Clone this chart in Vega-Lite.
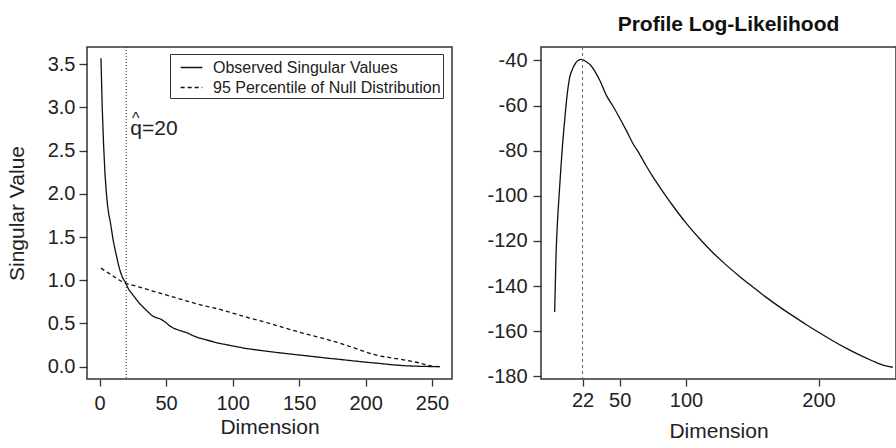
{
  "$schema": "https://vega.github.io/schema/vega-lite/v6.json",
  "background": "white",
  "padding": {"left": 5, "top": 12, "right": 0, "bottom": 0},
  "bounds": "flush",
  "spacing": 89,
  "config": {
    "font": "Liberation Sans",
    "view": {"stroke": "#333", "strokeWidth": 1.5},
    "axis": {
      "grid": false,
      "domain": false,
      "tickColor": "#333",
      "tickWidth": 1.3,
      "labelFontSize": 20,
      "labelColor": "#222",
      "labelFont": "Liberation Sans",
      "titleFontSize": 21,
      "titleFontWeight": "normal",
      "titleColor": "#222",
      "titleFont": "Liberation Sans"
    }
  },
  "datasets": {
    "sv": [
      {"dim": 1, "value": 3.57, "series": "Observed Singular Values"},
      {"dim": 2, "value": 2.98, "series": "Observed Singular Values"},
      {"dim": 3, "value": 2.56, "series": "Observed Singular Values"},
      {"dim": 4, "value": 2.24, "series": "Observed Singular Values"},
      {"dim": 5, "value": 2.02, "series": "Observed Singular Values"},
      {"dim": 6, "value": 1.86, "series": "Observed Singular Values"},
      {"dim": 7, "value": 1.75, "series": "Observed Singular Values"},
      {"dim": 8, "value": 1.68, "series": "Observed Singular Values"},
      {"dim": 9, "value": 1.58, "series": "Observed Singular Values"},
      {"dim": 10, "value": 1.48, "series": "Observed Singular Values"},
      {"dim": 11, "value": 1.40, "series": "Observed Singular Values"},
      {"dim": 12, "value": 1.33, "series": "Observed Singular Values"},
      {"dim": 13, "value": 1.26, "series": "Observed Singular Values"},
      {"dim": 14, "value": 1.19, "series": "Observed Singular Values"},
      {"dim": 15, "value": 1.13, "series": "Observed Singular Values"},
      {"dim": 16, "value": 1.08, "series": "Observed Singular Values"},
      {"dim": 17, "value": 1.04, "series": "Observed Singular Values"},
      {"dim": 18, "value": 1.01, "series": "Observed Singular Values"},
      {"dim": 19, "value": 0.985, "series": "Observed Singular Values"},
      {"dim": 20, "value": 0.955, "series": "Observed Singular Values"},
      {"dim": 21, "value": 0.92, "series": "Observed Singular Values"},
      {"dim": 22, "value": 0.89, "series": "Observed Singular Values"},
      {"dim": 23, "value": 0.87, "series": "Observed Singular Values"},
      {"dim": 24, "value": 0.85, "series": "Observed Singular Values"},
      {"dim": 26, "value": 0.81, "series": "Observed Singular Values"},
      {"dim": 28, "value": 0.77, "series": "Observed Singular Values"},
      {"dim": 30, "value": 0.73, "series": "Observed Singular Values"},
      {"dim": 32, "value": 0.70, "series": "Observed Singular Values"},
      {"dim": 34, "value": 0.67, "series": "Observed Singular Values"},
      {"dim": 36, "value": 0.64, "series": "Observed Singular Values"},
      {"dim": 38, "value": 0.61, "series": "Observed Singular Values"},
      {"dim": 40, "value": 0.585, "series": "Observed Singular Values"},
      {"dim": 42, "value": 0.57, "series": "Observed Singular Values"},
      {"dim": 44, "value": 0.56, "series": "Observed Singular Values"},
      {"dim": 46, "value": 0.55, "series": "Observed Singular Values"},
      {"dim": 48, "value": 0.53, "series": "Observed Singular Values"},
      {"dim": 50, "value": 0.51, "series": "Observed Singular Values"},
      {"dim": 52, "value": 0.48, "series": "Observed Singular Values"},
      {"dim": 55, "value": 0.45, "series": "Observed Singular Values"},
      {"dim": 58, "value": 0.43, "series": "Observed Singular Values"},
      {"dim": 62, "value": 0.41, "series": "Observed Singular Values"},
      {"dim": 66, "value": 0.39, "series": "Observed Singular Values"},
      {"dim": 70, "value": 0.36, "series": "Observed Singular Values"},
      {"dim": 75, "value": 0.33, "series": "Observed Singular Values"},
      {"dim": 80, "value": 0.31, "series": "Observed Singular Values"},
      {"dim": 85, "value": 0.29, "series": "Observed Singular Values"},
      {"dim": 90, "value": 0.27, "series": "Observed Singular Values"},
      {"dim": 95, "value": 0.255, "series": "Observed Singular Values"},
      {"dim": 100, "value": 0.24, "series": "Observed Singular Values"},
      {"dim": 110, "value": 0.21, "series": "Observed Singular Values"},
      {"dim": 120, "value": 0.19, "series": "Observed Singular Values"},
      {"dim": 130, "value": 0.17, "series": "Observed Singular Values"},
      {"dim": 140, "value": 0.152, "series": "Observed Singular Values"},
      {"dim": 150, "value": 0.135, "series": "Observed Singular Values"},
      {"dim": 160, "value": 0.118, "series": "Observed Singular Values"},
      {"dim": 170, "value": 0.10, "series": "Observed Singular Values"},
      {"dim": 180, "value": 0.085, "series": "Observed Singular Values"},
      {"dim": 190, "value": 0.068, "series": "Observed Singular Values"},
      {"dim": 200, "value": 0.052, "series": "Observed Singular Values"},
      {"dim": 210, "value": 0.038, "series": "Observed Singular Values"},
      {"dim": 220, "value": 0.022, "series": "Observed Singular Values"},
      {"dim": 230, "value": 0.01, "series": "Observed Singular Values"},
      {"dim": 240, "value": 0.004, "series": "Observed Singular Values"},
      {"dim": 250, "value": 0.001, "series": "Observed Singular Values"},
      {"dim": 256, "value": 0.0, "series": "Observed Singular Values"},
      {"dim": 1, "value": 1.14, "series": "95 Percentile of Null Distribution"},
      {"dim": 5, "value": 1.10, "series": "95 Percentile of Null Distribution"},
      {"dim": 10, "value": 1.05, "series": "95 Percentile of Null Distribution"},
      {"dim": 15, "value": 1.0, "series": "95 Percentile of Null Distribution"},
      {"dim": 20, "value": 0.963, "series": "95 Percentile of Null Distribution"},
      {"dim": 30, "value": 0.92, "series": "95 Percentile of Null Distribution"},
      {"dim": 40, "value": 0.875, "series": "95 Percentile of Null Distribution"},
      {"dim": 50, "value": 0.83, "series": "95 Percentile of Null Distribution"},
      {"dim": 60, "value": 0.785, "series": "95 Percentile of Null Distribution"},
      {"dim": 70, "value": 0.74, "series": "95 Percentile of Null Distribution"},
      {"dim": 80, "value": 0.70, "series": "95 Percentile of Null Distribution"},
      {"dim": 90, "value": 0.665, "series": "95 Percentile of Null Distribution"},
      {"dim": 100, "value": 0.62, "series": "95 Percentile of Null Distribution"},
      {"dim": 110, "value": 0.575, "series": "95 Percentile of Null Distribution"},
      {"dim": 120, "value": 0.535, "series": "95 Percentile of Null Distribution"},
      {"dim": 130, "value": 0.49, "series": "95 Percentile of Null Distribution"},
      {"dim": 140, "value": 0.445, "series": "95 Percentile of Null Distribution"},
      {"dim": 150, "value": 0.40, "series": "95 Percentile of Null Distribution"},
      {"dim": 160, "value": 0.36, "series": "95 Percentile of Null Distribution"},
      {"dim": 170, "value": 0.32, "series": "95 Percentile of Null Distribution"},
      {"dim": 180, "value": 0.275, "series": "95 Percentile of Null Distribution"},
      {"dim": 190, "value": 0.225, "series": "95 Percentile of Null Distribution"},
      {"dim": 200, "value": 0.17, "series": "95 Percentile of Null Distribution"},
      {"dim": 205, "value": 0.145, "series": "95 Percentile of Null Distribution"},
      {"dim": 210, "value": 0.125, "series": "95 Percentile of Null Distribution"},
      {"dim": 220, "value": 0.10, "series": "95 Percentile of Null Distribution"},
      {"dim": 230, "value": 0.075, "series": "95 Percentile of Null Distribution"},
      {"dim": 240, "value": 0.045, "series": "95 Percentile of Null Distribution"},
      {"dim": 250, "value": 0.005, "series": "95 Percentile of Null Distribution"},
      {"dim": 256, "value": 0.0, "series": "95 Percentile of Null Distribution"}
    ],
    "ll": [
      {"dim": 1, "value": -151.5},
      {"dim": 2, "value": -127},
      {"dim": 3, "value": -113},
      {"dim": 4, "value": -103},
      {"dim": 5, "value": -94},
      {"dim": 6, "value": -85},
      {"dim": 7, "value": -77},
      {"dim": 8, "value": -70},
      {"dim": 9, "value": -63.5},
      {"dim": 10, "value": -57.5},
      {"dim": 11, "value": -52.5},
      {"dim": 12, "value": -48.5},
      {"dim": 13, "value": -46},
      {"dim": 14, "value": -44.5},
      {"dim": 15, "value": -43},
      {"dim": 16, "value": -42},
      {"dim": 17, "value": -41},
      {"dim": 18, "value": -40.3},
      {"dim": 19, "value": -39.9},
      {"dim": 20, "value": -39.6},
      {"dim": 21, "value": -39.5},
      {"dim": 22, "value": -39.6},
      {"dim": 23, "value": -39.9},
      {"dim": 25, "value": -40.7},
      {"dim": 28, "value": -42},
      {"dim": 31, "value": -44.5},
      {"dim": 35, "value": -48.8},
      {"dim": 40, "value": -55.5},
      {"dim": 45, "value": -60.3},
      {"dim": 50, "value": -65.5},
      {"dim": 55, "value": -71},
      {"dim": 60, "value": -76.8},
      {"dim": 65, "value": -81.5},
      {"dim": 70, "value": -86.7},
      {"dim": 75, "value": -91.5},
      {"dim": 80, "value": -95.9},
      {"dim": 90, "value": -104.3},
      {"dim": 100, "value": -112},
      {"dim": 110, "value": -118.8},
      {"dim": 120, "value": -125},
      {"dim": 130, "value": -130.5},
      {"dim": 140, "value": -135.5},
      {"dim": 150, "value": -140.2},
      {"dim": 160, "value": -144.8},
      {"dim": 170, "value": -149},
      {"dim": 180, "value": -153},
      {"dim": 190, "value": -156.8},
      {"dim": 200, "value": -160.5},
      {"dim": 210, "value": -164},
      {"dim": 220, "value": -167.3},
      {"dim": 230, "value": -170.3},
      {"dim": 240, "value": -173},
      {"dim": 250, "value": -175.3},
      {"dim": 256, "value": -176}
    ]
  },
  "hconcat": [
    {
      "width": 365,
      "height": 332,
      "layer": [
        {
          "data": {"name": "sv"},
          "mark": {"type": "line", "color": "#111", "strokeWidth": 1.3},
          "encoding": {
            "x": {
              "field": "dim", "type": "quantitative",
              "scale": {"domain": [-9.5, 265], "nice": false, "zero": false},
              "axis": {"values": [0, 50, 100, 150, 200, 250], "title": "Dimension", "tickSize": 7, "labelPadding": 7, "titlePadding": 3}
            },
            "y": {
              "field": "value", "type": "quantitative",
              "scale": {"domain": [-0.143, 3.70], "nice": false, "zero": false},
              "axis": {"values": [0, 0.5, 1, 1.5, 2, 2.5, 3, 3.5], "format": ".1f", "title": "Singular Value", "tickSize": 8, "labelPadding": 4, "titlePadding": 20}
            },
            "strokeDash": {
              "field": "series", "type": "nominal",
              "scale": {"domain": ["Observed Singular Values", "95 Percentile of Null Distribution"], "range": [[1, 0], [4, 3]]},
              "legend": {
                "title": null, "orient": "none", "legendX": 83, "legendY": 7,
                "symbolType": "stroke", "symbolSize": 470, "symbolStrokeWidth": 1.3, "symbolStrokeColor": "#111", "symbolOffset": 8,
                "labelFontSize": 16, "labelColor": "#222", "labelFont": "Liberation Sans", "labelOffset": 10, "labelLimit": 400,
                "strokeColor": "#333", "fillColor": "white", "padding": 2, "rowPadding": 0
              }
            }
          }
        },
        {
          "data": {"values": [{"qhat": 20}]},
          "mark": {"type": "rule", "strokeDash": [1, 2], "color": "#222", "strokeWidth": 1},
          "encoding": {"x": {"field": "qhat", "type": "quantitative"}}
        },
        {
          "data": {"values": [{"dim": 23.1, "value": 2.683, "label": "q=20"}]},
          "mark": {"type": "text", "align": "left", "baseline": "alphabetic", "fontSize": 21, "color": "#222"},
          "encoding": {
            "x": {"field": "dim", "type": "quantitative"},
            "y": {"field": "value", "type": "quantitative"},
            "text": {"field": "label"}
          }
        },
        {
          "data": {"values": [{"dim": 27.2, "value": 2.81, "label": "^"}]},
          "mark": {"type": "text", "align": "center", "baseline": "alphabetic", "fontSize": 16, "color": "#222"},
          "encoding": {
            "x": {"field": "dim", "type": "quantitative"},
            "y": {"field": "value", "type": "quantitative"},
            "text": {"field": "label"}
          }
        }
      ]
    },
    {
      "width": 355,
      "height": 332,
      "title": {"text": "Profile Log-Likelihood", "fontSize": 21, "fontWeight": "bold", "color": "#111", "anchor": "middle", "baseline": "alphabetic", "offset": -5, "dx": 10},
      "layer": [
        {
          "data": {"name": "ll"},
          "mark": {"type": "line", "color": "#111", "strokeWidth": 1.3, "interpolate": "monotone"},
          "encoding": {
            "x": {
              "field": "dim", "type": "quantitative",
              "scale": {"domain": [-9.3, 258.4], "nice": false, "zero": false},
              "axis": {"values": [22, 50, 100, 200], "title": "Dimension", "tickSize": 7, "labelPadding": 4, "titlePadding": 10}
            },
            "y": {
              "field": "value", "type": "quantitative",
              "scale": {"domain": [-181.2, -34.05], "nice": false, "zero": false},
              "axis": {"values": [-180, -160, -140, -120, -100, -80, -60, -40], "labelExpr": "toString(datum.value)", "title": null, "tickSize": 8, "labelPadding": 6}
            }
          }
        },
        {
          "data": {"values": [{"peak": 22}]},
          "mark": {"type": "rule", "strokeDash": [3, 3], "color": "#666", "strokeWidth": 1},
          "encoding": {"x": {"field": "peak", "type": "quantitative"}}
        }
      ]
    }
  ]
}
